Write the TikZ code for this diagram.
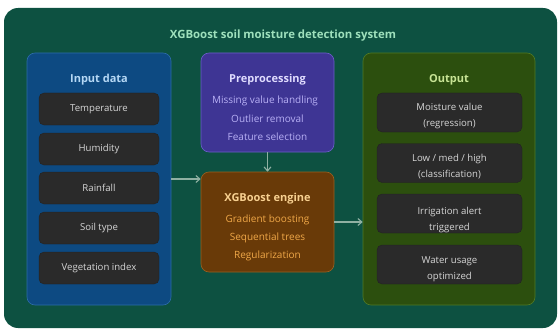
\documentclass[tikz,border=0pt]{standalone}
\usepackage{fontspec}
\setmainfont{Open Sans}
\usetikzlibrary{arrows.meta}

\definecolor{bgGreen}{HTML}{0D5141}
\definecolor{titleGreen}{HTML}{9EE0BC}
\definecolor{inBlue}{HTML}{0D4A82}
\definecolor{inBlueLine}{HTML}{2C6CA8}
\definecolor{inBlueText}{HTML}{B5D8F5}
\definecolor{cellGrey}{HTML}{2A2A2A}
\definecolor{cellText}{HTML}{D6D6D6}
\definecolor{preFill}{HTML}{3E3594}
\definecolor{preLine}{HTML}{6B5FC8}
\definecolor{preTitle}{HTML}{E0DCFF}
\definecolor{preText}{HTML}{B8B0F5}
\definecolor{engFill}{HTML}{693A08}
\definecolor{engLine}{HTML}{9A6020}
\definecolor{engTitle}{HTML}{F8D090}
\definecolor{engText}{HTML}{F0A848}
\definecolor{outFill}{HTML}{2C4F0E}
\definecolor{outLine}{HTML}{507A25}
\definecolor{outTitle}{HTML}{C8E495}
\definecolor{flowGrey}{HTML}{8FB0A2}

\tikzset{
  panel/.style={rectangle, rounded corners=8pt, line width=0.6pt, inner sep=0pt},
  cell/.style={rectangle, rounded corners=5pt, fill=cellGrey, draw=cellGrey!80!black, text=cellText,
    minimum height=32pt, inner sep=0pt, align=center, font=\fontsize{9.6}{16}\selectfont},
  celltext/.style={text=cellText, align=center, inner sep=0pt, font=\fontsize{9.6}{16}\selectfont},
  head/.style={font=\fontsize{11}{13}\selectfont\bfseries},
  line/.style={font=\fontsize{10}{12}\selectfont},
  flow/.style={draw=flowGrey, line width=1.1pt, -{Straight Barb[length=4pt,width=7pt]}}
}

\begin{document}
\begin{tikzpicture}[x=1pt,y=-1pt]
  \useasboundingbox (0,0) rectangle (560,329);
  \fill[white] (0,0) rectangle (560,329);

  % Outer frame and title
  \fill[bgGreen, rounded corners=14pt] (4,8) rectangle (557,328);
  \node[text=titleGreen, head, font=\fontsize{11.4}{13}\selectfont\bfseries] (title) at (283,36) {XGBoost soil moisture detection system};

  % Panels
  \node[panel, fill=inBlue, draw=inBlueLine, minimum width=144pt, minimum height=252pt] (input) at (99,179) {};
  \node[panel, fill=preFill, draw=preLine, minimum width=133pt, minimum height=99pt] (prep) at (267.5,102.5) {};
  \node[panel, fill=engFill, draw=engLine, minimum width=133pt, minimum height=100pt] (engine) at (267.5,222) {};
  \node[panel, fill=outFill, draw=outLine, minimum width=172pt, minimum height=252pt] (output) at (449,179) {};

  % Input data
  \node[head, text=inBlueText] (inHead) at (99,80) {Input data};
  \node[cell, minimum width=120pt] (temp) at (99,109) {Temperature};
  \node[cell, minimum width=120pt] (hum) at (99,149) {Humidity};
  \node[cell, minimum width=120pt] (rain) at (99,188) {Rainfall};
  \node[cell, minimum width=120pt] (soil) at (99,228) {Soil type};
  \node[cell, minimum width=120pt] (veg) at (99,268) {Vegetation index};

  % Preprocessing
  \node[head, text=preTitle] (prepHead) at (267.5,80) {Preprocessing};
  \node[line, text=preText] (miss) at (265,101) {Missing value handling};
  \node[line, text=preText] (outl) at (267.5,119) {Outlier removal};
  \node[line, text=preText] (feat) at (267.5,137) {Feature selection};

  % XGBoost engine
  \node[head, text=engTitle] (engHead) at (267.5,199) {XGBoost engine};
  \node[line, text=engText] (grad) at (267.5,220) {Gradient boosting};
  \node[line, text=engText] (seq) at (267.5,238) {Sequential trees};
  \node[line, text=engText] (reg) at (267.5,256) {Regularization};

  % Output
  \node[head, text=outTitle] (outHead) at (449,80) {Output};
  \node[cell, minimum width=145pt, minimum height=39pt] (moist) at (449.5,112.5) {};
  \node[cell, minimum width=145pt, minimum height=39pt] (level) at (449.5,163) {};
  \node[cell, minimum width=145pt, minimum height=39pt] (alert) at (449.5,213.5) {};
  \node[cell, minimum width=145pt, minimum height=39pt] (water) at (449.5,264.5) {};
  \node[celltext] (moistText) at (449.5,116.5) {Moisture value\\(regression)};
  \node[celltext] (levelText) at (449.5,167) {Low / med / high\\(classification)};
  \node[celltext] (alertText) at (449.5,220) {Irrigation alert\\triggered};
  \node[celltext] (waterText) at (449.5,269) {Water usage\\optimized};

  % Flow arrows
  \draw[flow] (input.east) -- (input.east -| engine.west);
  \draw[flow] (prep.south) -- (engine.north);
  \draw[flow] (engine.east) -- (engine.east -| output.west);
\end{tikzpicture}
\end{document}
